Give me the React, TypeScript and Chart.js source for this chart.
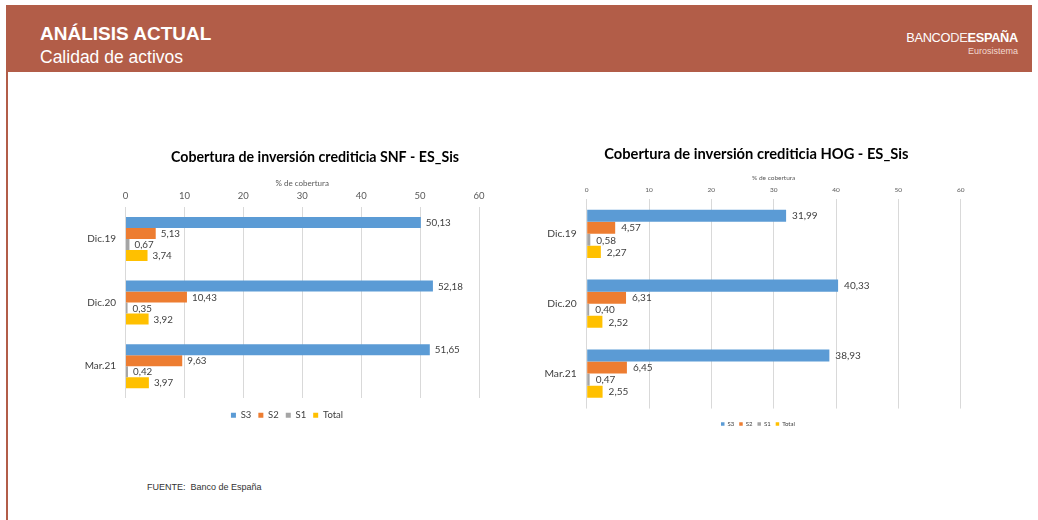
import React, { useEffect, useRef } from "react";
import { Chart, registerables } from "chart.js";

Chart.register(...registerables);

// ---------- data ----------
const categories = ["Dic.19", "Dic.20", "Mar.21"];
const seriesNames = ["S3", "S2", "S1", "Total"];
const seriesColors = ["#5B9BD5", "#ED7D31", "#A5A5A5", "#FFC000"];

const snfS3 = [50.13, 52.18, 51.65];
const snfS2 = [5.13, 10.43, 9.63];
const snfS1 = [0.67, 0.35, 0.42];
const snfTotal = [3.74, 3.92, 3.97];

const hogS3 = [31.99, 40.33, 38.93];
const hogS2 = [4.57, 6.31, 6.45];
const hogS1 = [0.58, 0.4, 0.47];
const hogTotal = [2.27, 2.52, 2.55];

const axisMin = 0;
const axisMax = 60;
const axisStep = 10;

const snfTitle = "Cobertura de inversión crediticia SNF - ES_Sis";
const hogTitle = "Cobertura de inversión crediticia HOG - ES_Sis";
const axisTitle = "% de cobertura";

const FONT = "Lato, 'Open Sans', sans-serif";

const fmt = (v: number) => v.toFixed(2).replace(".", ",");

const valueLabels = {
  id: "valueLabels",
  afterDatasetsDraw(chart: any, _args: any, opts: any) {
    const ctx = chart.ctx;
    ctx.save();
    ctx.font = `${opts.size}px ${FONT}`;
    ctx.fillStyle = "#404040";
    ctx.textBaseline = "middle";
    ctx.textAlign = "left";
    chart.data.datasets.forEach((ds: any, di: number) => {
      const meta = chart.getDatasetMeta(di);
      meta.data.forEach((el: any, i: number) => {
        ctx.fillText(fmt(ds.data[i]), el.x + opts.offset, el.y + 0.5);
      });
    });
    ctx.restore();
  },
};

const shiftBlocks = {
  id: "shiftBlocks",
  afterLayout(chart: any, _args: any, opts: any) {
    const t = chart.titleBlock;
    if (t && opts.title) {
      t.left += opts.title;
      t.right += opts.title;
    }
    const l = chart.legend;
    if (l && opts.legend) {
      l.left += opts.legend;
      l.right += opts.legend;
    }
  },
};

type Cfg = {
  title: string;
  s3: number[];
  s2: number[];
  s1: number[];
  total: number[];
  titleSize: number;
  titlePadTop: number;
  titlePadBottom: number;
  axisTitleSize: number;
  axisTitlePad: number;
  axisHeight: number;
  tickSize: number;
  tickPad: number;
  yWidth: number;
  catSize: number;
  catPad: number;
  padRight: number;
  padBottom: number;
  legendSize: number;
  legendBox: number;
  legendPad: number;
  legendTop: number;
  labelSize: number;
  labelOffset: number;
  titleShift: number;
  legendShift: number;
};

function BarChart({ cfg }: { cfg: Cfg }) {
  const ref = useRef<HTMLCanvasElement>(null);
  useEffect(() => {
    if (!ref.current) return;
    const values = [cfg.s3, cfg.s2, cfg.s1, cfg.total];
    const chart = new Chart(ref.current, {
      type: "bar",
      data: {
        labels: categories,
        datasets: seriesNames.map((name, i) => ({
          label: name,
          data: values[i],
          backgroundColor: seriesColors[i],
          borderWidth: 0,
          categoryPercentage: 0.69,
          barPercentage: 1,
        })),
      },
      options: {
        indexAxis: "y",
        animation: false,
        responsive: true,
        maintainAspectRatio: false,
        layout: { padding: { top: 0, left: 0, right: cfg.padRight, bottom: cfg.padBottom } },
        scales: {
          x: {
            position: "top",
            min: axisMin,
            max: axisMax,
            ticks: {
              stepSize: axisStep,
              color: "#595959",
              padding: cfg.tickPad,
              font: { family: FONT, size: cfg.tickSize },
            },
            grid: { color: "#D9D9D9", drawTicks: false, lineWidth: 1 },
            border: { display: false },
            title: {
              display: true,
              text: axisTitle,
              color: "#595959",
              font: { family: FONT, size: cfg.axisTitleSize },
              padding: { top: cfg.axisTitlePad, bottom: 0 },
            },
            afterFit: (s: any) => {
              s.height = cfg.axisHeight;
            },
          },
          y: {
            ticks: {
              color: "#404040",
              padding: cfg.catPad,
              font: { family: FONT, size: cfg.catSize },
            },
            grid: { display: false, drawTicks: false },
            border: { display: false },
            afterFit: (s: any) => {
              s.width = cfg.yWidth;
            },
          },
        },
        plugins: {
          title: {
            display: true,
            text: cfg.title,
            color: "#000000",
            font: { family: FONT, size: cfg.titleSize, weight: "bold", lineHeight: 1.2 },
            padding: { top: cfg.titlePadTop, bottom: cfg.titlePadBottom },
          },
          legend: {
            position: "bottom",
            title: {
              display: true,
              text: "",
              font: { size: 1, lineHeight: 1 },
              padding: { top: cfg.legendTop, bottom: 0 },
            },
            labels: {
              boxWidth: cfg.legendBox,
              boxHeight: cfg.legendBox,
              padding: cfg.legendPad,
              color: "#404040",
              font: { family: FONT, size: cfg.legendSize },
            },
          },
          tooltip: { enabled: false },
          valueLabels: { size: cfg.labelSize, offset: cfg.labelOffset },
          shiftBlocks: { title: cfg.titleShift, legend: cfg.legendShift },
        } as any,
      },
      plugins: [valueLabels as any, shiftBlocks as any],
    });
    return () => chart.destroy();
  }, [cfg]);
  return <canvas ref={ref} />;
}

const snfCfg: Cfg = {
  title: snfTitle,
  s3: snfS3,
  s2: snfS2,
  s1: snfS1,
  total: snfTotal,
  titleSize: 14.2,
  titlePadTop: 8.5,
  titlePadBottom: 8,
  axisTitleSize: 8,
  axisTitlePad: 5.5,
  axisHeight: 33.6,
  tickSize: 9.5,
  tickPad: 5.5,
  yWidth: 65.5,
  catSize: 10,
  catPad: 9.5,
  padRight: 21,
  padBottom: 0,
  legendSize: 9.5,
  legendBox: 5,
  legendPad: 7,
  legendTop: 4.5,
  labelSize: 9.8,
  labelOffset: 5,
  titleShift: 45.5,
  legendShift: 17.5,
};

const hogCfg: Cfg = {
  title: hogTitle,
  s3: hogS3,
  s2: hogS2,
  s1: hogS1,
  total: hogTotal,
  titleSize: 14.7,
  titlePadTop: 10.3,
  titlePadBottom: 6,
  axisTitleSize: 6.5,
  axisTitlePad: 5.4,
  axisHeight: 29.9,
  tickSize: 6.5,
  tickPad: 5.3,
  yWidth: 66.7,
  catSize: 10.3,
  catPad: 10,
  padRight: 29.3,
  padBottom: 0,
  legendSize: 6,
  legendBox: 3.5,
  legendPad: 5,
  legendTop: 6.45,
  labelSize: 10,
  labelOffset: 6,
  titleShift: 16,
  legendShift: 17.6,
};

const band = "#B25D48";

export default function App() {
  useEffect(() => {
    document.body.style.margin = "0";
  }, []);
  const abs: React.CSSProperties = { position: "absolute" };
  const sans = "'Liberation Sans', Arial, sans-serif";
  return (
    <div style={{ position: "relative", width: 1038, height: 520, background: "#fff", overflow: "hidden", fontFamily: sans }}>
      <div style={{ ...abs, left: 6, top: 5, width: 1026, height: 67, background: band }} />
      <div style={{ ...abs, left: 6, top: 72, width: 2, height: 448, background: band }} />
      <div style={{ ...abs, left: 40, top: 22.5, lineHeight: "22px", fontSize: 19, fontWeight: "bold", color: "#fff" }}>
        ANÁLISIS ACTUAL
      </div>
      <div style={{ ...abs, left: 40, top: 47, lineHeight: "20px", fontSize: 17.5, color: "#fff" }}>
        Calidad de activos
      </div>
      <div style={{ ...abs, right: 1038 - 1018, top: 30.5, lineHeight: "14px", fontSize: 12.8, color: "#fff", letterSpacing: -0.3, whiteSpace: "nowrap" }}>
        <span>BANCO</span>
        <span style={{ fontWeight: 300, opacity: 0.9 }}>DE</span>
        <span style={{ fontWeight: "bold" }}>ESPAÑA</span>
      </div>
      <div style={{ ...abs, right: 1038 - 1018, top: 45.5, lineHeight: "11px", fontSize: 9, color: "#F2D9D1" }}>
        Eurosistema
      </div>
      <div style={{ ...abs, left: 60, top: 140, width: 440, height: 290 }}>
        <BarChart cfg={snfCfg} />
      </div>
      <div style={{ ...abs, left: 520, top: 135, width: 470, height: 302 }}>
        <BarChart cfg={hogCfg} />
      </div>
      <div style={{ ...abs, left: 147, top: 481, lineHeight: "12px", fontSize: 9, color: "#333333", whiteSpace: "pre" }}>
        FUENTE:  Banco de España
      </div>
    </div>
  );
}
